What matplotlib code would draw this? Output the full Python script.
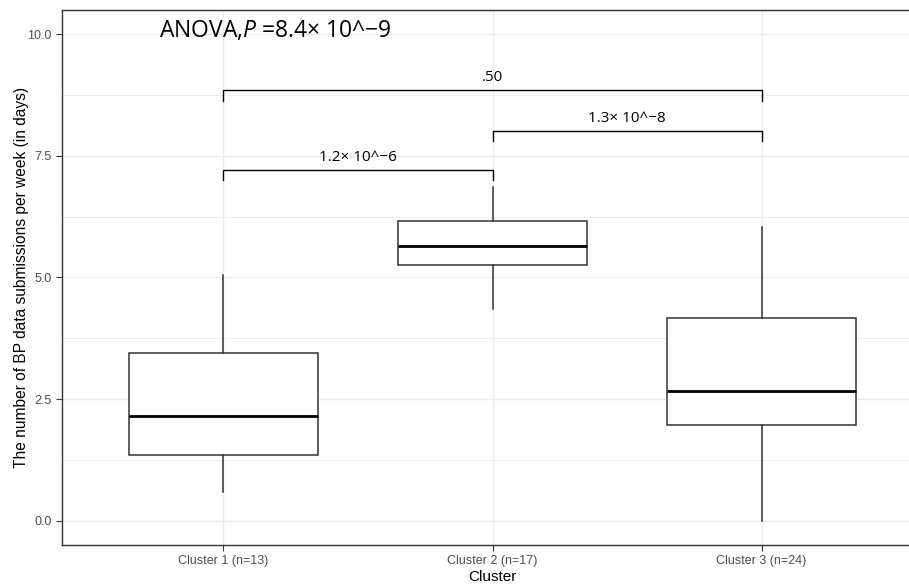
import matplotlib
matplotlib.use('Agg')
import matplotlib.pyplot as plt

plt.rcParams['font.family'] = ['Liberation Sans', 'DejaVu Sans']
plt.rcParams['mathtext.fontset'] = 'custom'
plt.rcParams['mathtext.rm'] = 'Open Sans'
plt.rcParams['mathtext.it'] = 'Open Sans:italic'

# box statistics per cluster
clusters = ["Cluster 1 (n=13)", "Cluster 2 (n=17)", "Cluster 3 (n=24)"]
whisker_low = [0.58, 4.36, 0.0]
q1 = [1.35, 5.25, 1.96]
median = [2.16, 5.64, 2.66]
q3 = [3.45, 6.17, 4.16]
whisker_high = [5.05, 6.87, 6.04]

# pairwise comparisons: (left group, right group, bar height, label)
pairs = [(1, 2, 7.22, "1.2\u00d7 10^\u22126"),
         (2, 3, 8.02, "1.3\u00d7 10^\u22128"),
         (1, 3, 8.85, ".50")]
anova_label = "ANOVA,$\\it{P}$ =8.4\u00d7 10^\u22129"

grid_col = '#EBEBEB'
dark = '#333333'

fig = plt.figure(figsize=(9.09, 5.85), dpi=100)
ax = fig.add_axes([62/909, 40/585, 861/909, 535/585])

stats = []
for i in range(len(clusters)):
    stats.append({'med': median[i], 'q1': q1[i], 'q3': q3[i],
                  'whislo': whisker_low[i], 'whishi': whisker_high[i],
                  'fliers': [], 'label': clusters[i]})

ax.bxp(stats, positions=[1, 2, 3], widths=0.7, showcaps=False, showfliers=False,
       patch_artist=True,
       boxprops=dict(facecolor='white', edgecolor=dark, linewidth=1.1),
       whiskerprops=dict(color=dark, linewidth=1.1),
       medianprops=dict(color='black', linewidth=2.0),
       zorder=3)

ax.set_xlim(0.4, 3.6)
ax.set_ylim(-0.5, 10.5)
ax.set_xticks([1, 2, 3])
ax.set_xticklabels(clusters)
ax.set_yticks([0, 2.5, 5, 7.5, 10])
ax.set_yticklabels(["0.0", "2.5", "5.0", "7.5", "10.0"])
ax.set_yticks([1.25, 3.75, 6.25, 8.75], minor=True)
ax.tick_params(axis='both', which='major', labelsize=9, labelcolor='#4D4D4D',
               color=dark, length=4, width=0.8)
ax.tick_params(axis='y', which='minor', length=0)
ax.grid(which='major', color=grid_col, linewidth=1.0, zorder=0)
ax.grid(which='minor', axis='y', color=grid_col, linewidth=0.6, zorder=0)
ax.set_axisbelow(True)
for s in ax.spines.values():
    s.set_color(dark)
    s.set_linewidth(1.0)

ax.set_xlabel("Cluster", fontsize=11, labelpad=2)
ax.set_ylabel("The number of BP data submissions per week (in days)", fontsize=11.2)
ax.yaxis.set_label_coords(-0.0385, 0.5)

# significance brackets
for a, b, h, lab in pairs:
    ax.plot([a, a, b, b], [h - 0.22, h, h, h - 0.22], color='black', linewidth=1.0, zorder=4)
    ax.text((a + b) / 2, h + 0.18, lab, ha='center', va='baseline', fontsize=11,
            family=['Open Sans', 'DejaVu Sans'])

ax.text(0.76, 9.94, anova_label, ha='left', va='baseline', fontsize=16.5,
        family=['Open Sans', 'DejaVu Sans'])

fig.savefig("out.png", dpi=100)
